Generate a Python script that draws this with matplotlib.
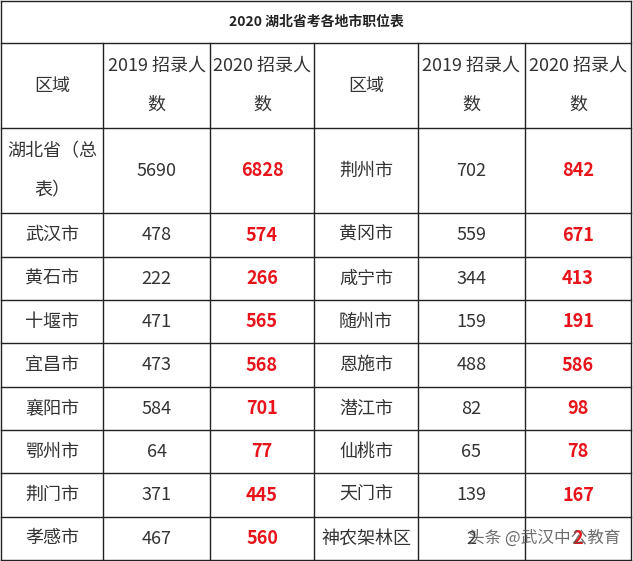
import matplotlib
matplotlib.use("Agg")
import matplotlib.pyplot as plt

plt.rcParams['font.family'] = ['Noto Sans CJK SC', 'DejaVu Sans']

title = "2020 湖北省考各地市职位表"
left_regions = ["湖北省（总\n表）", "武汉市", "黄石市", "十堰市", "宜昌市", "襄阳市", "鄂州市", "荆门市", "孝感市"]
left_2019 = [5690, 478, 222, 471, 473, 584, 64, 371, 467]
left_2020 = [6828, 574, 266, 565, 568, 701, 77, 445, 560]
right_regions = ["荆州市", "黄冈市", "咸宁市", "随州市", "恩施市", "潜江市", "仙桃市", "天门市", "神农架林区"]
right_2019 = [702, 559, 344, 159, 488, 82, 65, 139, 2]
right_2020 = [842, 671, 413, 191, 586, 98, 78, 167, 2]
header = ["区域", "2019 招录人\n数", "2020 招录人\n数"]

W, H = 633, 561
col_x = [1, 103, 210, 314, 418, 525, 631]
row_y = [1, 43, 128, 213, 257, 300, 343, 387, 430, 473, 517, 560]

fig = plt.figure(figsize=(W / 100, H / 100), dpi=100)
ax = fig.add_axes([0, 0, 1, 1])
ax.set_xlim(0, W)
ax.set_ylim(H, 0)
ax.axis('off')

lc = '#222222'
# grid lines
for y in row_y:
    ax.plot([col_x[0], col_x[-1]], [y, y], color=lc, lw=1)
for i, x in enumerate(col_x):
    y0 = row_y[0] if i in (0, len(col_x) - 1) else row_y[1]
    ax.plot([x, x], [y0, row_y[-1]], color=lc, lw=1)

ax.text(W / 2, (row_y[0] + row_y[1]) / 2, title, ha='center', va='center',
        fontsize=10, fontweight='bold', color='#222222')

txt = '#333333'
for half in range(2):
    for j, h in enumerate(header):
        cx = (col_x[half * 3 + j] + col_x[half * 3 + j + 1]) / 2
        ax.text(cx, (row_y[1] + row_y[2]) / 2, h, ha='center', va='center',
                fontsize=13, color=txt, linespacing=2.5)

for k in range(len(left_regions)):
    cy = (row_y[k + 2] + row_y[k + 3]) / 2
    for half, (reg, v19, v20) in enumerate([(left_regions, left_2019, left_2020),
                                             (right_regions, right_2019, right_2020)]):
        base = half * 3
        c = [(col_x[base + j] + col_x[base + j + 1]) / 2 for j in range(3)]
        ax.text(c[0], cy, reg[k], ha='center', va='center', fontsize=13, color=txt, linespacing=2.5)
        ax.text(c[1], cy, str(v19[k]), ha='center', va='center', fontsize=13, color=txt)
        ax.text(c[2], cy, str(v20[k]), ha='center', va='center', fontsize=13,
                color='#e8141b', fontweight='bold')

# watermark (overlaps the last row, as in the source image)
ax.text(620, 538, "头条 @武汉中公教育", ha='right', va='center', fontsize=12,
        color='#555555', alpha=0.85)

fig.savefig("out.png", dpi=100)
